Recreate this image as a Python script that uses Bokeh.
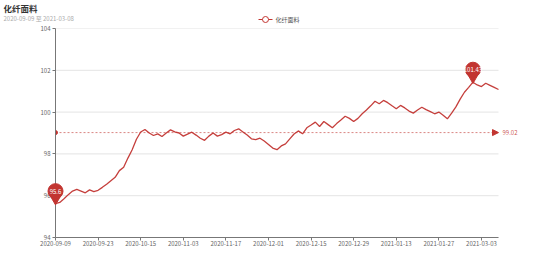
from bokeh.plotting import figure
from bokeh.layouts import column
from bokeh.models import (Range1d, FixedTicker, Label, Arrow, NormalHead, ColumnDataSource)
from bokeh.core.properties import value
from bokeh.embed import file_html
from bokeh.resources import INLINE

TITLE = "化纤面料"
SUBTITLE = "2020-09-09 至 2021-03-08"
SERIES_NAME = "化纤面料"

dates = [
    "2020-09-09", "2020-09-10", "2020-09-11", "2020-09-14", "2020-09-15", "2020-09-16",
    "2020-09-17", "2020-09-18", "2020-09-21", "2020-09-22", "2020-09-23",
    "2020-09-24", "2020-09-25", "2020-09-28", "2020-09-29", "2020-09-30", "2020-10-09",
    "2020-10-12", "2020-10-13", "2020-10-14", "2020-10-15",
    "2020-10-16", "2020-10-19", "2020-10-21", "2020-10-22", "2020-10-23", "2020-10-26",
    "2020-10-28", "2020-10-30", "2020-11-02", "2020-11-03",
    "2020-11-04", "2020-11-05", "2020-11-06", "2020-11-09", "2020-11-10", "2020-11-11",
    "2020-11-12", "2020-11-13", "2020-11-16", "2020-11-17",
    "2020-11-18", "2020-11-19", "2020-11-20", "2020-11-23", "2020-11-24", "2020-11-25",
    "2020-11-26", "2020-11-27", "2020-11-30", "2020-12-01",
    "2020-12-02", "2020-12-03", "2020-12-04", "2020-12-07", "2020-12-08", "2020-12-09",
    "2020-12-10", "2020-12-11", "2020-12-14", "2020-12-15",
    "2020-12-16", "2020-12-17", "2020-12-18", "2020-12-21", "2020-12-22", "2020-12-23",
    "2020-12-24", "2020-12-25", "2020-12-28", "2020-12-29",
    "2020-12-30", "2020-12-31", "2021-01-04", "2021-01-05", "2021-01-06", "2021-01-07",
    "2021-01-08", "2021-01-11", "2021-01-12", "2021-01-13",
    "2021-01-14", "2021-01-15", "2021-01-18", "2021-01-19", "2021-01-20", "2021-01-21",
    "2021-01-22", "2021-01-25", "2021-01-26", "2021-01-27",
    "2021-01-28", "2021-01-29", "2021-02-01", "2021-02-03", "2021-02-05", "2021-02-08",
    "2021-02-19", "2021-02-24", "2021-03-01", "2021-03-03",
    "2021-03-04", "2021-03-05", "2021-03-06", "2021-03-08",
]

values = [
    95.62, 95.68, 95.85, 96.05, 96.22, 96.30, 96.22, 96.14, 96.28, 96.20,
    96.26, 96.40, 96.55, 96.72, 96.88, 97.20, 97.36, 97.80, 98.20, 98.70,
    99.05, 99.17, 99.00, 98.88, 98.96, 98.83, 99.00, 99.15, 99.05, 99.00,
    98.85, 98.95, 99.04, 98.90, 98.75, 98.65, 98.85, 99.00, 98.85, 98.92,
    99.04, 98.96, 99.12, 99.20, 99.05, 98.90, 98.72, 98.68, 98.75, 98.62,
    98.45, 98.28, 98.20, 98.38, 98.48, 98.72, 98.95, 99.10, 98.96, 99.25,
    99.38, 99.52, 99.31, 99.55, 99.40, 99.25, 99.45, 99.62, 99.80, 99.70,
    99.55, 99.70, 99.92, 100.10, 100.30, 100.52, 100.40, 100.56, 100.45, 100.30,
    100.16, 100.32, 100.20, 100.05, 99.95, 100.10, 100.23, 100.12, 100.02, 99.92,
    100.00, 99.85, 99.68, 99.95, 100.25, 100.62, 100.95, 101.18, 101.43, 101.30,
    101.22, 101.38, 101.28, 101.18, 101.08,
]

MEAN_VALUE = 99.02
MEAN_LABEL = "99.02"
MIN_LABEL = "95.6"
MAX_LABEL = "101.43"
Y_TICKS = [94, 96, 98, 100, 102, 104]
X_TICK_EVERY = 10

FONT = "Noto Sans CJK SC"
RED = "#c23531"

W, H = 554, 265
HEAD_H = 24           # header strip: title, subtitle, legend
LEFT, TOP, BOTTOM = 55, 4, 28
DATA_W = 443          # pixels covered by the category axis
EXTRA_R = 32          # room right of the axis for the mean label
RIGHT = W - LEFT - DATA_W - EXTRA_R
MAIN_H = H - HEAD_H
FRAME_H = MAIN_H - TOP - BOTTOM
Y0, Y1 = 94, 104
PX = FRAME_H / (Y1 - Y0)
LAST = len(values) - 1
PX_X = DATA_W / LAST

# legend placement inside the header strip (pixels)
LEG_X, LEG_Y, LEG_W = 258, 19, 14

# ---------------- header strip ----------------
head = figure(width=W, height=HEAD_H, output_backend="svg", toolbar_location=None,
              x_axis_type=None, y_axis_type=None, title=None,
              x_range=Range1d(0, W), y_range=Range1d(HEAD_H, 0),
              min_border=0, min_border_left=0, min_border_right=0,
              min_border_top=0, min_border_bottom=0, frame_align=False)
head.outline_line_color = None
head.grid.visible = False
head.add_layout(Label(x=3, y=7.5, text=TITLE, text_font=FONT, text_font_size="8.5px",
                      text_font_style="bold", text_color="#333333",
                      text_baseline="middle"))
head.add_layout(Label(x=3, y=17.5, text=SUBTITLE, text_font=FONT, text_font_size="6px",
                      text_color="#aaaaaa", text_baseline="middle"))
# legend icon (line with hollow circle) and label
head.line([LEG_X, LEG_X + LEG_W], [LEG_Y, LEG_Y], line_color=RED, line_width=1)
head.scatter([LEG_X + LEG_W / 2], [LEG_Y], size=6, fill_color="white",
             line_color=RED, line_width=1)
head.add_layout(Label(x=LEG_X + LEG_W + 3, y=LEG_Y, text=SERIES_NAME, text_font=FONT,
                      text_font_size="6px", text_color="#555555",
                      text_baseline="middle"))

# ---------------- main chart ----------------
xs = list(range(len(values)))

p = figure(width=W, height=MAIN_H, output_backend="svg", toolbar_location=None, title=None,
           x_range=Range1d(0, LAST + EXTRA_R / PX_X), y_range=Range1d(Y0, Y1),
           min_border_left=LEFT, min_border_right=RIGHT,
           min_border_top=TOP, min_border_bottom=BOTTOM, frame_align=False)
p.outline_line_color = None
p.background_fill_color = "white"

# grid lines (bounded to the category axis)
p.xgrid.grid_line_color = None
p.ygrid.grid_line_color = None
p.segment(x0=[0] * len(Y_TICKS), x1=[LAST] * len(Y_TICKS), y0=Y_TICKS, y1=Y_TICKS,
          line_color="#e4e4e4", line_width=1)

# axes
tick_idx = list(range(0, len(dates), X_TICK_EVERY))
p.xaxis.ticker = FixedTicker(ticks=tick_idx)
p.xaxis.major_label_overrides = {i: dates[i] for i in tick_idx}
p.xaxis.bounds = (0, LAST)
p.yaxis.ticker = FixedTicker(ticks=Y_TICKS)
for ax in (p.xaxis[0], p.yaxis[0]):
    ax.axis_line_color = "#777777"
    ax.major_tick_line_color = "#777777"
    ax.major_tick_in = 0
    ax.major_tick_out = 3
    ax.minor_tick_line_color = None
    ax.major_label_text_font = FONT
    ax.major_label_text_font_size = "6px"
    ax.major_label_text_color = "#666666"
p.xaxis.major_label_standoff = 0
p.yaxis.major_label_standoff = 2

# mean line
p.line([0, LAST], [MEAN_VALUE, MEAN_VALUE], line_color=RED, line_alpha=0.6,
       line_dash="2 2", line_width=1)
p.add_layout(Arrow(end=NormalHead(size=6, fill_color=RED, line_color=RED),
                   x_start=LAST - 2, y_start=MEAN_VALUE, x_end=LAST, y_end=MEAN_VALUE,
                   line_color=RED, line_alpha=0))
p.scatter([0], [MEAN_VALUE], size=4, color=RED)
p.add_layout(Label(x=LAST, y=MEAN_VALUE, text=MEAN_LABEL, x_offset=4,
                   text_font=FONT, text_font_size="6px", text_color=RED,
                   text_alpha=0.85, text_baseline="middle"))

# series
p.line(xs, values, line_color=RED, line_alpha=0.95, line_width=1.3)

# pins (first point, maximum)
imax = values.index(max(values))
pin_v = [values[0], values[imax]]
src = ColumnDataSource(dict(
    x=[0, imax],
    yc=[v + 12.5 / PX for v in pin_v],
    yt=[v + 4.5 / PX for v in pin_v],
    t=[MIN_LABEL, MAX_LABEL]))
p.scatter("x", "yt", source=src, marker="inverted_triangle", size=10,
          fill_color=RED, line_color=RED, level="overlay")
p.scatter("x", "yc", source=src, marker="circle", size=15,
          fill_color=RED, line_color=RED, level="overlay")
p.text("x", "yc", text="t", source=src, text_color="white",
       text_font=value(FONT), text_font_size="6px", text_align="center",
       text_baseline="middle", level="overlay")

layout = column(head, p, spacing=0)
open("out.html", "w").write(file_html(layout, INLINE))
